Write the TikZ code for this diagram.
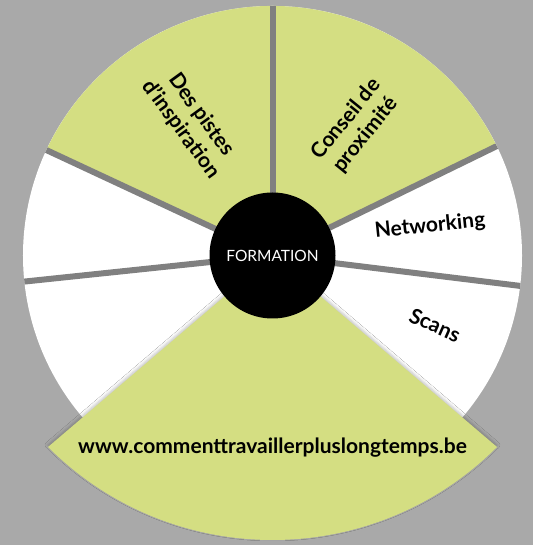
\documentclass[tikz,border=0pt]{standalone}
\usepackage{fontspec}
\setmainfont{Lato}
\usetikzlibrary{shadows.blur}
\definecolor{wheelgreen}{RGB}{212,222,130}
\definecolor{bggrey}{RGB}{169,169,169}
\definecolor{gapgrey}{RGB}{128,128,128}
\newcommand{\wheelR}{249.5}

\begin{document}
\begin{tikzpicture}[x=1pt,y=1pt,
  gap/.style={draw=gapgrey,line width=6pt},
  lbl/.style={font=\fontsize{21}{25}\selectfont\bfseries,align=center,text=black,inner sep=1pt},
  hub/.style={circle,fill=black,minimum size=126pt,inner sep=0pt,text=white,font=\fontsize{15.5}{18}\selectfont}]
\fill[bggrey] (-272.5,-289.5) rectangle (260.5,255.5);
\useasboundingbox (-272.5,-289.5) rectangle (260.5,255.5);

\fill[white] (0,0) circle[radius=\wheelR];
\fill[wheelgreen] (0,0) -- (26:\wheelR) arc[start angle=26, end angle=155, radius=\wheelR] -- cycle;

\draw[gap] (0,0) -- (26:\wheelR);
\draw[gap] (0,0) -- (90:\wheelR);
\draw[gap] (0,0) -- (155:\wheelR);
\draw[gap] (0,0) -- (186:\wheelR);
\draw[gap] (0,0) -- (353:\wheelR);

% the big sector at the bottom
\coordinate (tipl) at (-224.5,-191.5);
\fill[wheelgreen,blur shadow={shadow xshift=0pt,shadow yshift=2pt,shadow opacity=25,shadow blur radius=3pt}]
  (0,0) -- (tipl) arc[start angle=225, end angle=315, radius=317.5] -- cycle;

\node[hub] (formation) at (0,0) {FORMATION};

\node[lbl,rotate=-54] (pistes) at (-81.5,133.5) {Des pistes\\d'inspiration};
\node[lbl,rotate=51] (conseil) at (83.5,128.5) {Conseil de\\proximité};
\node[lbl,rotate=6] (networking) at (157.5,29.5) {Networking};
\node[lbl,rotate=-24] (scans) at (162.5,-69.5) {Scans};
\node[lbl] (site) at (0,-192.5) {www.commenttravaillerpluslongtemps.be};
\end{tikzpicture}
\end{document}
